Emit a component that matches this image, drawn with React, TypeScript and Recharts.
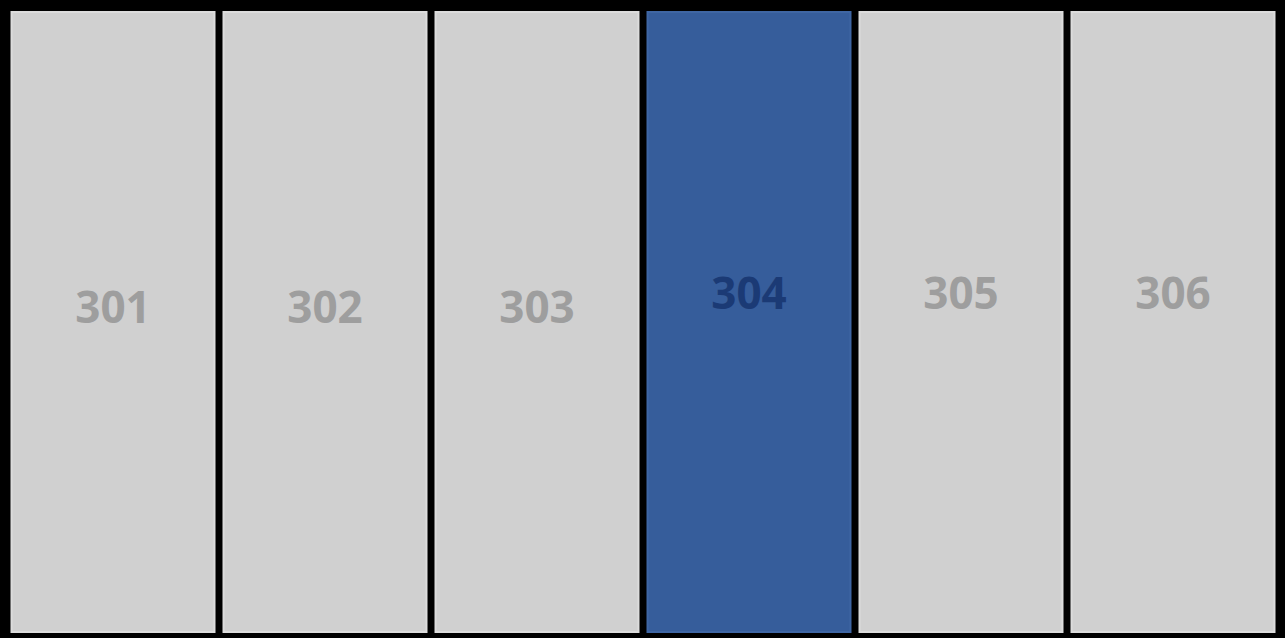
import { BarChart, Bar, XAxis, YAxis, Cell, LabelList } from 'recharts';

const rooms = ['301', '302', '303', '304', '305', '306'];
const occupancy = [1, 1, 1, 1, 1, 1];
const selectedRoom = '304';

const chartData = rooms.map((room, i) => ({ room, value: occupancy[i] }));

const RoomLabel = (props: any) => {
    const { x, y, width, height, value } = props;
    const active = value === selectedRoom;
    const lift = ['301', '302', '303'].includes(value) ? 16 : 30;
    return (
        <text
            x={x + width / 2}
            y={y + height / 2 - lift}
            textAnchor="middle"
            dominantBaseline="central"
            fontFamily="'Open Sans', sans-serif"
            fontWeight={700}
            fontSize={44}
            fill={active ? '#1b3a75' : '#9e9e9e'}
        >
            {value}
        </text>
    );
};

export default function App() {
    return (
        <div style={{ position: 'absolute', top: 0, left: 0, width: 1285, height: 638, background: '#000' }}>
            <BarChart
                width={1285}
                height={638}
                data={chartData}
                margin={{ top: 12, right: 6, bottom: 6, left: 7 }}
                barCategoryGap={4.5}
            >
                <XAxis dataKey="room" hide />
                <YAxis domain={[0, 1]} hide />
                <Bar dataKey="value" isAnimationActive={false}>
                    {chartData.map((d) => (
                        <Cell
                            key={d.room}
                            fill={d.room === selectedRoom ? '#365d9b' : '#d0d0d0'}
                            stroke={d.room === selectedRoom ? '#3f66a3' : '#dcdcdc'}
                            strokeWidth={2}
                        />
                    ))}
                    <LabelList dataKey="room" content={<RoomLabel />} />
                </Bar>
            </BarChart>
        </div>
    );
}
